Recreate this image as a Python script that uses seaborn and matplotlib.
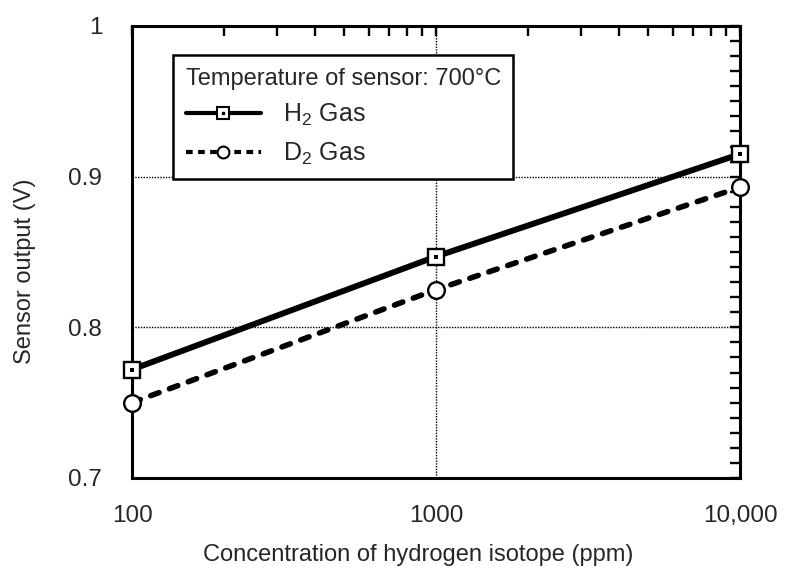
import numpy as np
import pandas as pd
import matplotlib
matplotlib.use("Agg")
import matplotlib.pyplot as plt
import seaborn as sns
from matplotlib.lines import Line2D
from matplotlib.legend_handler import HandlerTuple
from matplotlib.ticker import FixedLocator, NullFormatter

# ---- data ----
concentration = [100, 1000, 10000]
h2_output = [0.772, 0.847, 0.915]
d2_output = [0.750, 0.825, 0.893]
series_names = ["H$_2$ Gas", "D$_2$ Gas"]
legend_title = "Temperature of sensor: 700°C"
x_tick_values = [100, 1000, 10000]
x_tick_labels = ["100", "1000", "10,000"]
y_tick_values = [0.7, 0.8, 0.9, 1.0]
y_tick_labels = ["0.7", "0.8", "0.9", "1"]

sns.set_style("white")
plt.rcParams["font.family"] = ["Liberation Sans", "DejaVu Sans"]
plt.rcParams["mathtext.fontset"] = "custom"
plt.rcParams["mathtext.rm"] = "Liberation Sans"
plt.rcParams["mathtext.it"] = "Liberation Sans:italic"

df = pd.DataFrame({
    "conc": concentration * 2,
    "out": h2_output + d2_output,
    "gas": [series_names[0]] * 3 + [series_names[1]] * 3,
})

fig = plt.figure(figsize=(7.87, 5.75), dpi=100)
ax = fig.add_axes([132 / 787, 1 - 478 / 575, 608 / 787, 452 / 575])

h2 = df[df.gas == series_names[0]]
d2 = df[df.gas == series_names[1]]

sns.lineplot(data=h2, x="conc", y="out", ax=ax, color="black", lw=4.3,
             marker="s", markersize=11, markerfacecolor="white",
             markeredgecolor="black", markeredgewidth=1.7, zorder=4, clip_on=False)
sns.lineplot(data=h2, x="conc", y="out", ax=ax, color="black", lw=0,
             marker="s", markersize=2.4, markerfacecolor="black",
             markeredgewidth=0, zorder=5, clip_on=False)
sns.lineplot(data=d2, x="conc", y="out", ax=ax, color="black", lw=4.0,
             linestyle=(0, (1.6, 2.0)), dash_capstyle="round",
             marker="o", markersize=12, markerfacecolor="white",
             markeredgecolor="black", markeredgewidth=1.7, zorder=4, clip_on=False)

ax.set_xscale("log")
ax.set_xlim(100, 10000)
ax.set_ylim(0.7, 1.0)
ax.set_xticks(x_tick_values)
ax.set_xticklabels(x_tick_labels)
ax.set_yticks(y_tick_values)
ax.set_yticklabels(y_tick_labels)
ax.yaxis.set_minor_locator(FixedLocator(np.arange(0.70, 1.0001, 0.01)))
ax.xaxis.set_minor_formatter(NullFormatter())

ax.grid(False)
for xv in [1000]:
    ax.axvline(xv, color="black", lw=1.0, ls=(0, (1, 1)), zorder=1)
for yv in [0.8, 0.9]:
    ax.axhline(yv, color="black", lw=1.0, ls=(0, (1, 1)), zorder=1)

ax.tick_params(which="both", direction="in", top=True, right=True,
               color="black", width=1.7)
ax.tick_params(which="major", length=7.5, labelsize=17.5)
ax.tick_params(which="minor", length=7)
ax.tick_params(axis="x", which="major", pad=19.5)
ax.tick_params(axis="y", which="major", pad=21.5)
for s in ax.spines.values():
    s.set_visible(True)
    s.set_color("black")
    s.set_linewidth(2.2)

ax.set_xlabel("Concentration of hydrogen isotope (ppm)", fontsize=17)
ax.set_ylabel("Sensor output (V)", fontsize=17)
ax.xaxis.set_label_coords(0.47, -0.146)
ax.yaxis.set_label_coords(-0.158, 0.458)

h_line = Line2D([], [], color="black", lw=3.0, marker="s", markersize=8.5,
                markerfacecolor="white", markeredgecolor="black", markeredgewidth=1.5)
h_dot = Line2D([], [], lw=0, marker="s", markersize=1.8, color="black")
d_line = Line2D([], [], color="black", lw=3.0, ls=(0, (1.6, 1.3)), marker="o",
                markersize=8.5, markerfacecolor="white", markeredgecolor="black",
                markeredgewidth=1.5)
leg = ax.legend([(h_line, h_dot), d_line], series_names,
                handler_map={tuple: HandlerTuple(ndivide=1)},
                title=legend_title, title_fontsize=17, fontsize=18,
                loc="upper left", bbox_to_anchor=((173 - 132) / 608, (478 - 55) / 452),
                borderaxespad=0,
                frameon=True, fancybox=False, edgecolor="black", framealpha=1,
                handlelength=3.0, handletextpad=0.9, labelspacing=0.5,
                borderpad=0.5)
leg.get_frame().set_linewidth(1.8)
leg._legend_box.align = "left"
leg.set_zorder(10)

fig.savefig("out.png", dpi=100)
